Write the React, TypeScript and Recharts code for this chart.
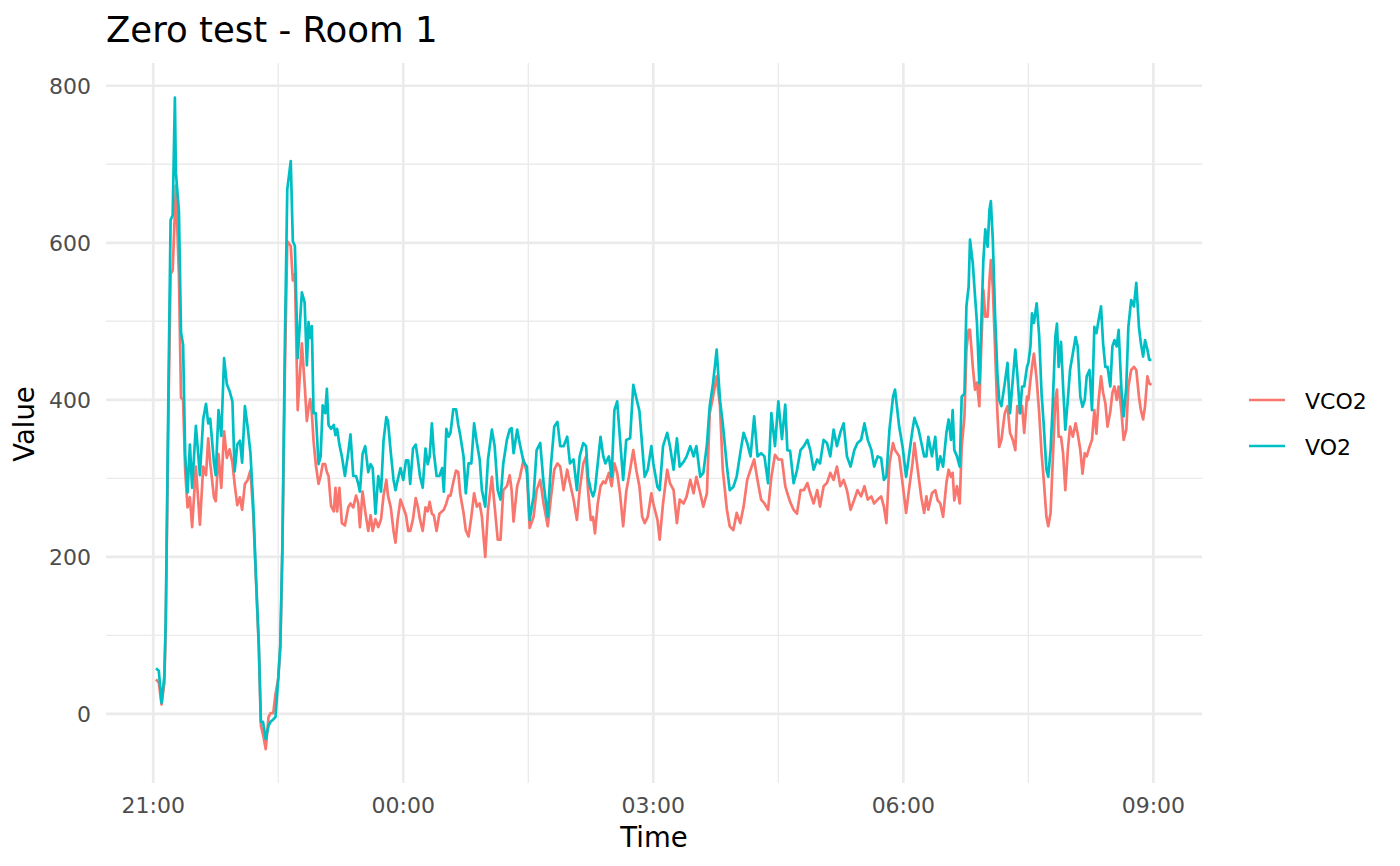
import { LineChart, Line, XAxis, YAxis, CartesianGrid } from "recharts";

// minutes after 21:00
const timeTicks = [0, 180, 360, 540, 720];
const timeLabels = ["21:00", "00:00", "03:00", "06:00", "09:00"];
const minorTimeTicks = [90, 270, 450, 630];
const valueTicks = [0, 200, 400, 600, 800];
const minorValueTicks = [100, 300, 500, 700];

const seriesNames = ["VCO2", "VO2"];
const seriesColors = ["#F8766D", "#00BFC4"];

const minutes = [
  2, 4, 6, 8, 9, 11, 12.5, 14, 15.6, 16.3,
  18.5, 20, 21.5, 23, 24.7, 26.4, 28, 30.7, 33.6, 36,
  38, 39.6, 41, 43.7, 45, 47, 49, 51, 53, 55,
  57, 58.6, 60.5, 62.4, 64, 66, 68, 70, 72, 74,
  76, 77.5, 79, 81, 83, 84.5, 86.4, 88, 90, 91.5,
  93, 94.8, 96.5, 99, 100.5, 102, 104, 107, 109, 110.6,
  111.8, 113, 114.2, 115.4, 117, 119, 120.5, 122, 123.8, 125,
  126.2, 128, 130, 131.2, 132.4, 134, 135.8, 138, 140.4, 142,
  144, 146, 147.6, 148.8, 150.7, 152.6, 154.8, 156.5, 158, 160,
  162, 164, 165.8, 167.8, 169, 171, 173, 174.4, 176, 178,
  180, 182, 183.6, 185, 187, 189, 190.6, 192, 194, 196,
  197.6, 199, 200.6, 202, 204, 206, 208, 209.2, 211, 212.6,
  214, 216, 218, 219.6, 221, 223.4, 225, 227, 229, 231,
  233, 235, 236.6, 239, 241, 243.8, 245.8, 248, 250, 252,
  254.6, 256.6, 258, 259.4, 262, 264, 266.6, 269, 271, 273.8,
  276, 278.6, 281, 284, 286.4, 288.7, 291, 293, 295.4, 298,
  300, 302.6, 305, 307, 309.6, 311.6, 313, 315, 316.6, 318,
  320, 322, 324, 325.5, 328, 330, 332, 334, 336, 338.3,
  340.5, 343.3, 345.6, 347.8, 350, 352, 353.8, 356, 358.6, 360,
  363, 364.6, 367, 370, 372, 374.6, 377, 379, 381.8, 384,
  386.6, 389, 391, 393.8, 396, 398.6, 400.6, 403, 405.6, 408,
  410, 413, 415, 417.6, 420, 422.6, 425, 427.6, 430, 432.6,
  435, 437.6, 440, 442.6, 445, 447.6, 450, 452.6, 455, 456.5,
  458.5, 461, 463.4, 466, 468.4, 470.9, 473, 475.4, 478, 480,
  482.6, 485, 487.4, 489.8, 492.2, 494.6, 497, 499.4, 502, 504.7,
  507, 509.6, 512, 514.4, 517, 519, 521.5, 524, 526, 527.8,
  530, 532.6, 534, 537, 539.4, 542, 544, 546.6, 548, 551,
  553, 555, 556.6, 558, 560.6, 563, 564.7, 566.6, 568.6, 571,
  572.6, 574.3, 575.5, 576.7, 578.6, 580.6, 582, 584, 585.4, 587,
  588, 590, 591.6, 593, 594.7, 596, 597.6, 599, 600.7, 602,
  603, 604.4, 606, 607.7, 609, 610.6, 613, 615, 616.8, 618.8,
  620.6, 622, 624, 625.5, 627, 629, 630, 631.5, 632.6, 634,
  636, 637.8, 639.5, 641, 643, 644.3, 646, 647.5, 649.4, 650.6,
  651.8, 653.5, 655, 656.6, 658.4, 660, 662, 664, 665.5, 667.4,
  669, 670.6, 672, 674, 675.8, 677.5, 679, 680.6, 682.3, 683.8,
  685.4, 687, 689, 690.5, 692, 693.6, 695, 697, 698.6, 700.5,
  702, 704, 706, 707.7, 709.6, 711, 712.6, 714, 715.7, 717,
  718.6,
];

const vo2 = [
  58, 55, 14, 48, 120, 420, 629, 635, 785, 690,
  640, 486, 470, 330, 282, 343, 288, 367, 304, 376,
  395, 370, 376, 320, 304, 387, 354, 453, 420, 411,
  398, 309, 343, 348, 320, 392, 365, 332, 266, 173,
  89, -10, -10, -32, -15, -10, -7, -4, 45, 89,
  216, 475, 668, 704, 602, 596, 453, 537, 524, 444,
  499, 479, 494, 383, 383, 318, 328, 393, 383, 414,
  368, 363, 368, 355, 363, 343, 328, 303, 333, 356,
  303, 303, 293, 283, 331, 341, 308, 318, 313, 255,
  303, 283, 348, 378, 373, 333, 298, 285, 298, 313,
  298, 323, 323, 293, 338, 343, 323, 303, 288, 338,
  318, 328, 370, 333, 303, 303, 313, 283, 363, 353,
  358, 388, 388, 368, 355, 328, 281, 319, 319, 370,
  345, 324, 285, 264, 324, 362, 341, 285, 273, 319,
  349, 362, 364, 332, 362, 343, 321, 315, 247, 277,
  336, 345, 294, 251, 319, 366, 372, 341, 341, 353,
  319, 324, 285, 328, 345, 341, 302, 285, 277, 285,
  319, 353, 328, 319, 328, 302, 387, 398, 351, 298,
  349, 351, 419, 402, 386, 341, 302, 311, 341, 319,
  289, 285, 341, 358, 341, 311, 351, 315, 321, 328,
  341, 328, 341, 302, 307, 343, 392, 421, 464, 400,
  370, 315, 285, 289, 302, 332, 358, 345, 328, 379,
  328, 332, 328, 294, 383, 341, 398, 350, 394, 336,
  335, 294, 310, 336, 341, 349, 336, 311, 324, 319,
  349, 345, 328, 362, 341, 358, 370, 328, 315, 336,
  345, 349, 370, 349, 336, 315, 328, 326, 298, 302,
  362, 404, 413, 366, 341, 302, 328, 362, 377, 362,
  345, 328, 328, 353, 328, 353, 311, 328, 315, 358,
  375, 349, 387, 336, 328, 315, 404, 408, 519, 544,
  604, 574, 532, 498, 421, 489, 578, 617, 595, 642,
  653, 604, 510, 434, 400, 392, 421, 447, 383, 426,
  464, 434, 383, 417, 417, 442, 447, 468, 510, 498,
  523, 481, 408, 370, 311, 302, 336, 392, 480, 497,
  442, 474, 417, 362, 400, 438, 459, 480, 468, 404,
  391, 400, 430, 438, 387, 493, 485, 502, 519, 472,
  442, 442, 417, 468, 476, 468, 489, 413, 379, 417,
  493, 527, 519, 549, 493, 472, 455, 476, 464, 451,
  451,
];

const vco2 = [
  44, 40, 12, 40, 110, 390, 560, 565, 640, 673,
  558, 403, 400, 310, 263, 276, 238, 315, 241, 315,
  304, 351, 320, 276, 271, 331, 288, 360, 326, 337,
  320, 293, 266, 276, 260, 293, 298, 310, 255, 170,
  85, -15, -26, -45, -4, 1, 1, 25, 45, 85,
  210, 440, 602, 596, 552, 560, 387, 472, 420, 373,
  390, 401, 383, 348, 318, 293, 303, 318, 318, 308,
  303, 265, 258, 288, 258, 288, 243, 240, 263, 268,
  263, 278, 268, 238, 283, 258, 233, 253, 233, 248,
  238, 248, 278, 298, 278, 263, 233, 218, 248, 273,
  263, 253, 233, 233, 248, 275, 263, 248, 233, 263,
  258, 270, 255, 253, 233, 255, 258, 260, 268, 278,
  278, 295, 310, 308, 280, 256, 234, 226, 251, 281,
  264, 268, 251, 200, 260, 302, 264, 222, 222, 285,
  290, 304, 285, 245, 290, 302, 324, 307, 237, 251,
  285, 298, 268, 239, 277, 311, 319, 315, 285, 311,
  294, 273, 247, 285, 319, 328, 285, 247, 251, 230,
  268, 290, 296, 294, 307, 290, 319, 307, 281, 239,
  283, 311, 336, 310, 290, 251, 243, 251, 281, 268,
  247, 222, 268, 311, 294, 285, 243, 273, 268, 277,
  298, 281, 302, 281, 264, 281, 383, 404, 430, 392,
  311, 260, 239, 234, 256, 243, 264, 298, 311, 324,
  298, 273, 268, 260, 302, 330, 324, 324, 290, 281,
  270, 260, 255, 285, 285, 294, 281, 268, 285, 264,
  290, 294, 307, 298, 315, 290, 298, 285, 260, 273,
  285, 277, 290, 273, 277, 268, 273, 277, 264, 243,
  319, 345, 336, 328, 294, 256, 285, 319, 345, 302,
  275, 256, 277, 260, 281, 285, 272, 268, 251, 294,
  311, 302, 307, 272, 290, 268, 340, 379, 464, 489,
  489, 442, 413, 422, 392, 464, 540, 506, 506, 553,
  578, 544, 466, 383, 340, 349, 383, 392, 358, 349,
  336, 392, 383, 392, 358, 404, 400, 425, 442, 459,
  425, 383, 332, 300, 251, 239, 256, 320, 400, 413,
  353, 353, 332, 285, 336, 366, 353, 370, 357, 336,
  306, 332, 328, 340, 349, 387, 357, 400, 430, 409,
  396, 366, 385, 409, 417, 400, 417, 385, 349, 362,
  417, 438, 442, 438, 404, 387, 375, 392, 430, 421,
  419,
];

const data = minutes.map((t, i) => ({ t, VCO2: vco2[i], VO2: vo2[i] }));

const FONT = "'DejaVu Sans', 'Noto Sans', sans-serif";
const GRID = "#EBEBEB";

export default function App() {
  return (
    <div style={{ position: "absolute", left: 0, top: 0, width: 1400, height: 866, fontFamily: FONT, background: "#fff" }}>
      <LineChart width={1400} height={866} data={data} margin={{ top: 63, right: 198, left: 46, bottom: 43 }}>
        <CartesianGrid stroke={GRID} strokeWidth={1.4} horizontalValues={minorValueTicks} verticalValues={minorTimeTicks} />
        <CartesianGrid stroke={GRID} strokeWidth={2.7} horizontalValues={valueTicks} verticalValues={timeTicks} />
        <XAxis
          dataKey="t"
          type="number"
          domain={[-34, 755]}
          ticks={timeTicks}
          interval={0}
          tickFormatter={(v: number) => timeLabels[timeTicks.indexOf(v)]}
          axisLine={false}
          tickLine={false}
          tickSize={6}
          tickMargin={8}
          height={40}
          tick={{ fill: "#4D4D4D", fontSize: 22 }}
        />
        <YAxis
          type="number"
          domain={[-88, 829]}
          ticks={valueTicks}
          interval={0}
          axisLine={false}
          tickLine={false}
          tickSize={6}
          tickMargin={9}
          width={60}
          tick={{ fill: "#4D4D4D", fontSize: 22 }}
        />
        {seriesNames.map((name, i) => (
          <Line
            key={name}
            type="linear"
            dataKey={name}
            stroke={seriesColors[i]}
            strokeWidth={2.7}
            strokeLinejoin="round"
            dot={false}
            activeDot={false}
            isAnimationActive={false}
          />
        ))}
      </LineChart>
      <svg width={1400} height={866} style={{ position: "absolute", left: 0, top: 0, pointerEvents: "none" }}>
        <text x={106} y={42} fontSize={35.5} fill="#000">Zero test - Room 1</text>
        <text x={654} y={847} fontSize={27.5} fill="#000" textAnchor="middle">Time</text>
        <text transform="translate(34,424) rotate(-90)" fontSize={27.5} fill="#000" textAnchor="middle">Value</text>
        {seriesNames.map((name, i) => (
          <g key={name}>
            <line x1={1249} x2={1285} y1={400 + i * 46} y2={400 + i * 46} stroke={seriesColors[i]} strokeWidth={2.7} />
            <text x={1305} y={409 + i * 46} fontSize={22} fill="#000">{name}</text>
          </g>
        ))}
      </svg>
    </div>
  );
}
